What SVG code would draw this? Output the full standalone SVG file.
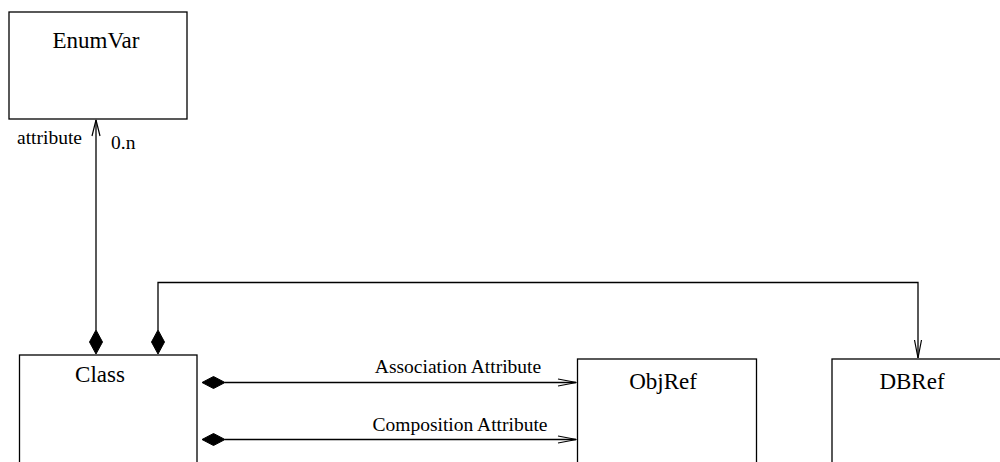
<svg xmlns="http://www.w3.org/2000/svg" width="1000" height="462" viewBox="0 0 1000 462">
  <style>
    .box { fill: #fff; stroke: #000; stroke-width: 1.3; }
    .name { font-family: "Liberation Serif", "Times New Roman", serif; font-size: 23px; fill: #000; }
    .lbl { font-family: "Liberation Serif", "Times New Roman", serif; font-size: 19.5px; fill: #000; }
    .edge { fill: none; stroke: #000; stroke-width: 1.3; }
    .diamond { fill: #000; stroke: #000; stroke-width: 1; }
    .head { fill: none; stroke: #000; stroke-width: 1.2; }
  </style>
  <rect width="1000" height="462" fill="#fff"/>

  <g id="EnumVar">
    <rect class="box" x="9" y="12" width="178" height="107"/>
    <text class="name" x="96" y="48" text-anchor="middle">EnumVar</text>
  </g>

  <g id="Class">
    <rect class="box" x="19.5" y="355" width="177.5" height="120"/>
    <text class="name" x="100" y="381.5" text-anchor="middle">Class</text>
  </g>

  <g id="ObjRef">
    <rect class="box" x="577.5" y="359" width="179" height="120"/>
    <text class="name" x="663" y="389" text-anchor="middle">ObjRef</text>
  </g>

  <g id="DBRef">
    <rect class="box" x="832" y="359" width="180" height="120"/>
    <text class="name" x="912" y="389" text-anchor="middle">DBRef</text>
  </g>

  <g id="connectors">
    <!-- Class to EnumVar (attribute, 0.n) -->
    <path class="edge" d="M96 330 V120"/>
    <path class="head" d="M92 136 L96 120 L100 136"/>
    <polygon class="diamond" points="96,330 102.5,342 96,354 89.5,342"/>
    <text class="lbl" x="17" y="143.5">attribute</text>
    <text class="lbl" x="111" y="148.5">0.n</text>

    <!-- Class to DBRef -->
    <path class="edge" d="M158 330 V282.5 H918 V358"/>
    <path class="head" d="M914.5 340 L918 358 L921.5 340"/>
    <polygon class="diamond" points="158,330 164.5,342 158,354 151.5,342"/>

    <!-- Association Attribute -->
    <path class="edge" d="M225 382.5 H576"/>
    <path class="head" d="M558 379 L576.5 382.5 L558 386"/>
    <polygon class="diamond" points="202,382.5 213.5,376.5 225,382.5 213.5,388.5"/>
    <text class="lbl" x="458" y="372.5" text-anchor="middle">Association Attribute</text>

    <!-- Composition Attribute -->
    <path class="edge" d="M225 439.5 H576"/>
    <path class="head" d="M558 436 L576.5 439.5 L558 443"/>
    <polygon class="diamond" points="202,439.5 213.5,433.5 225,439.5 213.5,445.5"/>
    <text class="lbl" x="460" y="430.5" text-anchor="middle">Composition Attribute</text>
  </g>
</svg>
